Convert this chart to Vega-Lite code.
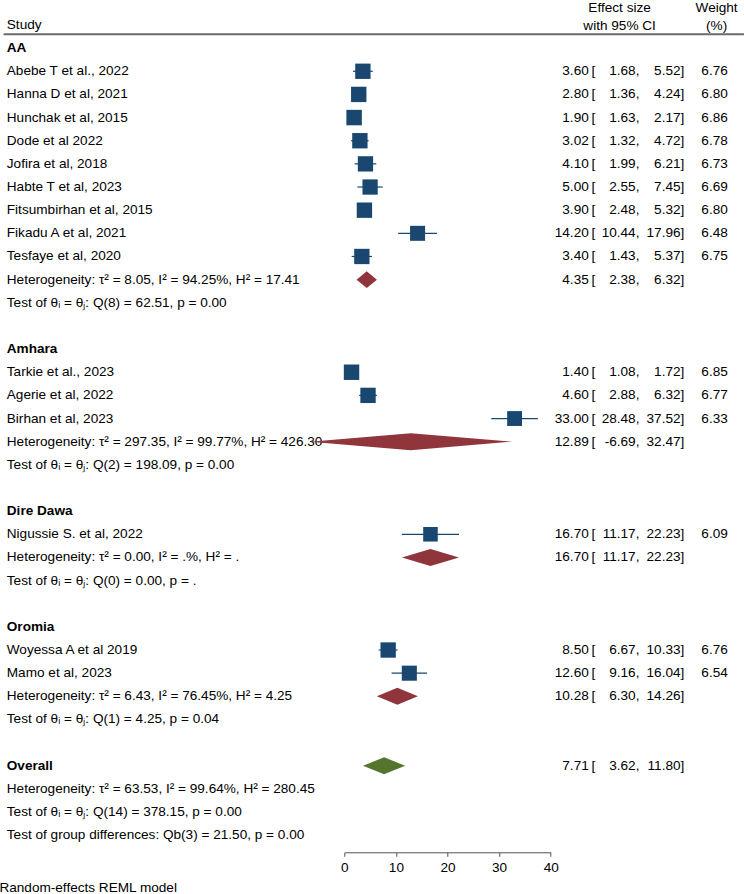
{
  "$schema": "https://vega.github.io/schema/vega-lite/v6.json",
  "autosize": {"type": "none"},
  "padding": {"left": 344.3, "top": 13.4, "right": 193.3, "bottom": 47.2},
  "width": 206.4,
  "height": 833.4,
  "background": "#ffffff",
  "config": {
    "view": {"stroke": null},
    "locale": {"number": {"decimal": ".", "thousands": ",", "grouping": [3], "currency": ["$", ""], "minus": "-"}},
    "text": {"font": "Liberation Sans", "fontSize": 13.6, "color": "#000000", "baseline": "middle"}
  },
  "title": {"text": "Random-effects REML model", "orient": "bottom", "anchor": "start", "frame": "bounds", "font": "Liberation Sans", "fontSize": 13.6, "fontWeight": "normal", "color": "#000000", "offset": 7, "dx": -3.3},
  "datasets": {
    "rows": [
      {"row": 0, "label": "AA", "bold": true, "kind": "group"},
      {"row": 1, "label": "Abebe T et al., 2022", "bold": false, "kind": "study", "es": 3.60, "lo": 1.68, "hi": 5.52, "w": 6.76},
      {"row": 2, "label": "Hanna D et al, 2021", "bold": false, "kind": "study", "es": 2.80, "lo": 1.36, "hi": 4.24, "w": 6.80},
      {"row": 3, "label": "Hunchak et al, 2015", "bold": false, "kind": "study", "es": 1.90, "lo": 1.63, "hi": 2.17, "w": 6.86},
      {"row": 4, "label": "Dode et al 2022", "bold": false, "kind": "study", "es": 3.02, "lo": 1.32, "hi": 4.72, "w": 6.78},
      {"row": 5, "label": "Jofira et al, 2018", "bold": false, "kind": "study", "es": 4.10, "lo": 1.99, "hi": 6.21, "w": 6.73},
      {"row": 6, "label": "Habte T et al, 2023", "bold": false, "kind": "study", "es": 5.00, "lo": 2.55, "hi": 7.45, "w": 6.69},
      {"row": 7, "label": "Fitsumbirhan et al, 2015", "bold": false, "kind": "study", "es": 3.90, "lo": 2.48, "hi": 5.32, "w": 6.80},
      {"row": 8, "label": "Fikadu A et al,  2021", "bold": false, "kind": "study", "es": 14.20, "lo": 10.44, "hi": 17.96, "w": 6.48},
      {"row": 9, "label": "Tesfaye et al, 2020", "bold": false, "kind": "study", "es": 3.40, "lo": 1.43, "hi": 5.37, "w": 6.75},
      {"row": 10, "label": "Heterogeneity: τ² = 8.05, I² = 94.25%, H² = 17.41", "bold": false, "kind": "sub", "es": 4.35, "lo": 2.38, "hi": 6.32},
      {"row": 11, "label": "Test of θᵢ = θⱼ: Q(8) = 62.51, p = 0.00", "bold": false, "kind": "text"},
      {"row": 13, "label": "Amhara", "bold": true, "kind": "group"},
      {"row": 14, "label": "Tarkie et al., 2023", "bold": false, "kind": "study", "es": 1.40, "lo": 1.08, "hi": 1.72, "w": 6.85},
      {"row": 15, "label": "Agerie et al, 2022", "bold": false, "kind": "study", "es": 4.60, "lo": 2.88, "hi": 6.32, "w": 6.77},
      {"row": 16, "label": "Birhan et al, 2023", "bold": false, "kind": "study", "es": 33.00, "lo": 28.48, "hi": 37.52, "w": 6.33},
      {"row": 17, "label": "Heterogeneity: τ² = 297.35, I² = 99.77%, H² = 426.30", "bold": false, "kind": "sub", "es": 12.89, "lo": -6.69, "hi": 32.47},
      {"row": 18, "label": "Test of θᵢ = θⱼ: Q(2) = 198.09, p = 0.00", "bold": false, "kind": "text"},
      {"row": 20, "label": "Dire Dawa", "bold": true, "kind": "group"},
      {"row": 21, "label": "Nigussie S. et al, 2022", "bold": false, "kind": "study", "es": 16.70, "lo": 11.17, "hi": 22.23, "w": 6.09},
      {"row": 22, "label": "Heterogeneity: τ² = 0.00, I² = .%, H² = .", "bold": false, "kind": "sub", "es": 16.70, "lo": 11.17, "hi": 22.23},
      {"row": 23, "label": "Test of θᵢ = θⱼ: Q(0) = 0.00, p = .", "bold": false, "kind": "text"},
      {"row": 25, "label": "Oromia", "bold": true, "kind": "group"},
      {"row": 26, "label": "Woyessa A et al 2019", "bold": false, "kind": "study", "es": 8.50, "lo": 6.67, "hi": 10.33, "w": 6.76},
      {"row": 27, "label": "Mamo et al, 2023", "bold": false, "kind": "study", "es": 12.60, "lo": 9.16, "hi": 16.04, "w": 6.54},
      {"row": 28, "label": "Heterogeneity: τ² = 6.43, I² = 76.45%, H² = 4.25", "bold": false, "kind": "sub", "es": 10.28, "lo": 6.30, "hi": 14.26},
      {"row": 29, "label": "Test of θᵢ = θⱼ: Q(1) = 4.25, p = 0.04", "bold": false, "kind": "text"},
      {"row": 31, "label": "Overall", "bold": true, "kind": "overall", "es": 7.71, "lo": 3.62, "hi": 11.80},
      {"row": 32, "label": "Heterogeneity: τ² = 63.53, I² = 99.64%, H² = 280.45", "bold": false, "kind": "text"},
      {"row": 33, "label": "Test of θᵢ = θⱼ: Q(14) = 378.15, p = 0.00", "bold": false, "kind": "text"},
      {"row": 34, "label": "Test of group differences: Qb(3) = 21.50, p = 0.00", "bold": false, "kind": "text"}
    ],
    "diamonds": [
      {"g": "AA", "row": 10, "kind": "sub", "v": 2.38, "pos": "mid", "k": 0},
      {"g": "AA", "row": 10, "kind": "sub", "v": 4.35, "pos": "top", "k": 1},
      {"g": "AA", "row": 10, "kind": "sub", "v": 6.32, "pos": "mid", "k": 2},
      {"g": "AA", "row": 10, "kind": "sub", "v": 4.35, "pos": "bot", "k": 3},
      {"g": "Amhara", "row": 17, "kind": "sub", "v": -6.69, "pos": "mid", "k": 0},
      {"g": "Amhara", "row": 17, "kind": "sub", "v": 12.89, "pos": "top", "k": 1},
      {"g": "Amhara", "row": 17, "kind": "sub", "v": 32.47, "pos": "mid", "k": 2},
      {"g": "Amhara", "row": 17, "kind": "sub", "v": 12.89, "pos": "bot", "k": 3},
      {"g": "Dire Dawa", "row": 22, "kind": "sub", "v": 11.17, "pos": "mid", "k": 0},
      {"g": "Dire Dawa", "row": 22, "kind": "sub", "v": 16.70, "pos": "top", "k": 1},
      {"g": "Dire Dawa", "row": 22, "kind": "sub", "v": 22.23, "pos": "mid", "k": 2},
      {"g": "Dire Dawa", "row": 22, "kind": "sub", "v": 16.70, "pos": "bot", "k": 3},
      {"g": "Oromia", "row": 28, "kind": "sub", "v": 6.30, "pos": "mid", "k": 0},
      {"g": "Oromia", "row": 28, "kind": "sub", "v": 10.28, "pos": "top", "k": 1},
      {"g": "Oromia", "row": 28, "kind": "sub", "v": 14.26, "pos": "mid", "k": 2},
      {"g": "Oromia", "row": 28, "kind": "sub", "v": 10.28, "pos": "bot", "k": 3},
      {"g": "Overall", "row": 31, "kind": "overall", "v": 3.62, "pos": "mid", "k": 0},
      {"g": "Overall", "row": 31, "kind": "overall", "v": 7.71, "pos": "top", "k": 1},
      {"g": "Overall", "row": 31, "kind": "overall", "v": 11.80, "pos": "mid", "k": 2},
      {"g": "Overall", "row": 31, "kind": "overall", "v": 7.71, "pos": "bot", "k": 3}
    ]
  },
  "data": {"name": "rows"},
  "encoding": {
    "y": {
      "field": "row", "type": "ordinal", "axis": null,
      "scale": {"type": "band", "paddingInner": 0, "paddingOuter": 0,
        "domain": [-1,0,1,2,3,4,5,6,7,8,9,10,11,12,13,14,15,16,17,18,19,20,21,22,23,24,25,26,27,28,29,30,31,32,33,34]}
    }
  },
  "layer": [
    {
      "data": {"values": [{"row": -1}]},
      "mark": {"type": "rule", "color": "#6a6a6a", "strokeWidth": 1.8},
      "encoding": {
        "y": {"field": "row", "type": "ordinal", "bandPosition": 0.9},
        "x": {"datum": -66.03, "title": null},
        "x2": {"datum": 77.45}
      }
    },
    {
      "transform": [{"filter": "datum.kind === 'study'"}],
      "mark": {"type": "rule", "color": "#1a476f", "strokeWidth": 1.2},
      "encoding": {
        "x": {"field": "lo", "type": "quantitative", "title": null,
          "scale": {"domain": [0, 40], "nice": false, "zero": false},
          "axis": {"values": [0, 10, 20, 30, 40], "title": null, "grid": false, "domainColor": "#555555", "tickColor": "#555555", "domainWidth": 1, "tickWidth": 1, "tickSize": 4, "labelFont": "Liberation Sans", "labelFontSize": 13.6, "labelColor": "#000000", "labelPadding": 3.8, "labelFlush": false, "labelOverlap": false, "offset": 5.5}},
        "x2": {"field": "hi"}
      }
    },
    {
      "transform": [{"filter": "datum.kind === 'study'"}],
      "mark": {"type": "point", "shape": "square", "filled": true, "opacity": 1, "color": "#1a476f"},
      "encoding": {
        "x": {"field": "es", "type": "quantitative", "title": null},
        "size": {"field": "w", "type": "quantitative", "scale": {"domain": [0, 10], "range": [0, 348]}, "legend": null}
      }
    },
    {
      "transform": [{"filter": "!datum.bold"}],
      "mark": {"type": "text", "align": "left"},
      "encoding": {"x": {"datum": -65.41, "title": null}, "text": {"field": "label"}}
    },
    {
      "transform": [{"filter": "datum.bold"}],
      "mark": {"type": "text", "align": "left", "fontWeight": "bold"},
      "encoding": {"x": {"datum": -65.41, "title": null}, "text": {"field": "label"}}
    },
    {
      "data": {"values": [{"row": -1, "t": "Study"}]},
      "mark": {"type": "text", "align": "left"},
      "encoding": {"x": {"datum": -65.41, "title": null}, "text": {"field": "t"}}
    },
    {
      "data": {"values": [{"row": -1, "t": ["Effect size", "with 95% CI"]}]},
      "mark": {"type": "text", "align": "center", "baseline": "bottom", "lineHeight": 18},
      "encoding": {"y": {"field": "row", "type": "ordinal", "bandPosition": 0.07}, "x": {"datum": 53.35, "title": null}, "text": {"field": "t"}}
    },
    {
      "data": {"values": [{"row": -1, "t": ["Weight", "(%)"]}]},
      "mark": {"type": "text", "align": "center", "baseline": "bottom", "lineHeight": 18},
      "encoding": {"y": {"field": "row", "type": "ordinal", "bandPosition": 0.07}, "x": {"datum": 72.15, "title": null}, "text": {"field": "t"}}
    },
    {
      "transform": [{"filter": "isValid(datum.es)"}],
      "mark": {"type": "text", "align": "right"},
      "encoding": {"x": {"datum": 47.38, "title": null}, "text": {"field": "es", "format": ".2f"}}
    },
    {
      "transform": [{"filter": "isValid(datum.es)"}],
      "mark": {"type": "text", "align": "left", "text": "["},
      "encoding": {"x": {"datum": 47.91, "title": null}}
    },
    {
      "transform": [{"filter": "isValid(datum.es)"}],
      "mark": {"type": "text", "align": "right"},
      "encoding": {"x": {"datum": 56.47, "title": null}, "text": {"field": "lo", "format": ".2f"}}
    },
    {
      "transform": [{"filter": "isValid(datum.es)"}],
      "mark": {"type": "text", "align": "left", "text": ","},
      "encoding": {"x": {"datum": 56.47, "title": null}}
    },
    {
      "transform": [{"filter": "isValid(datum.es)"}],
      "mark": {"type": "text", "align": "right"},
      "encoding": {"x": {"datum": 65.17, "title": null}, "text": {"field": "hi", "format": ".2f"}}
    },
    {
      "transform": [{"filter": "isValid(datum.es)"}],
      "mark": {"type": "text", "align": "left", "text": "]"},
      "encoding": {"x": {"datum": 65.17, "title": null}}
    },
    {
      "transform": [{"filter": "isValid(datum.w)"}],
      "mark": {"type": "text", "align": "right"},
      "encoding": {"x": {"datum": 74.32, "title": null}, "text": {"field": "w", "format": ".2f"}}
    },
    {
      "data": {"name": "diamonds"},
      "mark": {"type": "line", "filled": true, "strokeWidth": 0},
      "encoding": {
        "x": {"field": "v", "type": "quantitative", "title": null},
        "yOffset": {"field": "pos", "type": "nominal", "scale": {"type": "point", "domain": ["top", "mid", "bot"], "padding": 0.362}},
        "order": {"field": "k", "type": "quantitative"},
        "detail": {"field": "g"},
        "color": {"field": "kind", "type": "nominal", "scale": {"domain": ["sub", "overall"], "range": ["#90353b", "#55752f"]}, "legend": null}
      }
    }
  ]
}
